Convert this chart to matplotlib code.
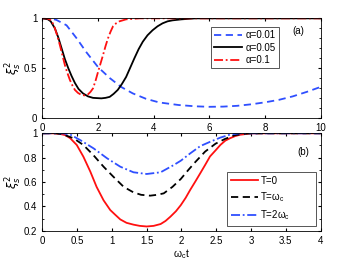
import matplotlib.pyplot as plt
from matplotlib.ticker import MultipleLocator

# panel (a): squeezing vs time for three coupling strengths
t_a001 = [0, 0.25, 0.5, 0.87, 1.23, 1.58, 2.0, 2.42, 2.83, 3.25, 3.73, 4.2, 4.9,
          5.5, 6.0, 6.5, 7.0, 7.5, 8.0, 8.5, 9.0, 9.5, 10]
v_a001 = [1.0, 1.0, 0.985, 0.93, 0.80, 0.66, 0.51, 0.40, 0.31, 0.245, 0.19, 0.154, 0.128,
          0.115, 0.11, 0.112, 0.12, 0.135, 0.155, 0.18, 0.215, 0.26, 0.31]

t_a005 = [0, 0.2, 0.3, 0.45, 0.57, 0.69, 0.81, 0.93, 1.05, 1.17, 1.3, 1.46, 1.64, 1.82,
          2.12, 2.27, 2.42, 2.56, 2.71, 2.86, 3.01, 3.16, 3.31, 3.46, 3.61, 3.78, 3.96,
          4.14, 4.32, 4.5, 4.68, 5.0, 5.5, 6, 7, 8, 9, 10]
v_a005 = [1.0, 0.99, 0.97, 0.90, 0.81, 0.70, 0.59, 0.50, 0.42, 0.35, 0.29, 0.245, 0.215, 0.20,
          0.195, 0.20, 0.21, 0.24, 0.28, 0.34, 0.41, 0.505, 0.60, 0.69, 0.765, 0.83, 0.88,
          0.92, 0.95, 0.97, 0.98, 0.99, 1.0, 1.0, 1.0, 1.0, 1.0, 1.0]

t_a01 = [0, 0.15, 0.27, 0.36, 0.45, 0.54, 0.63, 0.72, 0.81, 0.9, 0.99, 1.08, 1.17, 1.28,
         1.40, 1.52, 1.64, 1.73, 1.82, 1.91, 2.0, 2.09, 2.18, 2.27, 2.36, 2.45, 2.54, 2.65,
         2.77, 3.01, 3.5, 4, 6, 8, 10]
v_a01 = [1.0, 1.0, 0.99, 0.96, 0.90, 0.82, 0.73, 0.63, 0.53, 0.45, 0.38, 0.325, 0.28, 0.25,
         0.23, 0.225, 0.235, 0.26, 0.295, 0.37, 0.46, 0.545, 0.63, 0.72, 0.80, 0.865, 0.92, 0.95,
         0.97, 0.99, 1.0, 1.0, 1.0, 1.0, 1.0]

# panel (b): squeezing vs time for three temperatures
t_T0 = [0, 0.15, 0.255, 0.33, 0.40, 0.495, 0.59, 0.69, 0.78, 0.88, 0.976, 1.05, 1.12, 1.21,
        1.31, 1.40, 1.50, 1.60, 1.70, 1.77, 1.84, 1.92, 1.99, 2.06, 2.125, 2.2, 2.27, 2.34,
        2.41, 2.49, 2.56, 2.63, 2.70, 2.77, 2.84, 2.99, 3.2, 3.5, 4]
v_T0 = [1.0, 1.0, 0.995, 0.985, 0.96, 0.904, 0.808, 0.685, 0.56, 0.45, 0.37, 0.33, 0.293, 0.265,
        0.25, 0.24, 0.235, 0.24, 0.255, 0.28, 0.315, 0.36, 0.41, 0.47, 0.535, 0.605, 0.672, 0.74,
        0.81, 0.86, 0.905, 0.94, 0.96, 0.977, 0.988, 0.999, 1.0, 1.0, 1.0]

t_T1 = [0, 0.2, 0.3, 0.447, 0.59, 0.735, 0.88, 1.02, 1.17, 1.31, 1.42, 1.55, 1.65, 1.745,
        1.87, 1.99, 2.1, 2.2, 2.34, 2.49, 2.63, 2.77, 2.94, 3.2, 4]
v_T1 = [1.0, 1.0, 0.99, 0.96, 0.904, 0.82, 0.726, 0.644, 0.56, 0.515, 0.495, 0.488, 0.495, 0.507,
        0.56, 0.625, 0.70, 0.765, 0.85, 0.915, 0.955, 0.985, 0.998, 1.0, 1.0]

t_T2 = [0, 0.3, 0.4, 0.543, 0.735, 0.93, 1.12, 1.31, 1.5, 1.70, 1.89, 1.99, 2.125, 2.27,
        2.41, 2.56, 2.70, 2.84, 3, 4]
v_T2 = [1.0, 1.0, 0.99, 0.945, 0.877, 0.795, 0.726, 0.68, 0.666, 0.68, 0.74, 0.775, 0.835, 0.895,
        0.93, 0.965, 0.99, 1.0, 1.0, 1.0]

labels_a = ['\u03b1=0.01', '\u03b1=0.05', '\u03b1=0.1']
labels_b = ['T=0', 'T=\u03c9$_\\mathregular{c}$', 'T=2\u03c9$_\\mathregular{c}$']

blue = '#2f4fff'
red = '#ff1010'
fs = 7

plt.rcParams['font.family'] = ['Liberation Sans', 'DejaVu Sans']
plt.rcParams['font.size'] = fs
plt.rcParams['xtick.direction'] = 'in'
plt.rcParams['ytick.direction'] = 'in'
plt.rcParams['xtick.top'] = True
plt.rcParams['ytick.right'] = True
plt.rcParams['xtick.major.size'] = 2.5
plt.rcParams['ytick.major.size'] = 2.5
plt.rcParams['ytick.minor.size'] = 1.3
plt.rcParams['axes.linewidth'] = 0.6

fig = plt.figure(figsize=(3.5, 2.64), dpi=100)
ax1 = fig.add_axes([0.121, 0.554, 0.795, 0.3765])
ax2 = fig.add_axes([0.121, 0.126, 0.795, 0.369])

lw = 1.3
dash = (0, (4, 2.5))
dashdot = (0, (5, 1.5, 1, 1.5))

ax1.plot(t_a001, v_a001, color=blue, ls=dash, lw=lw, label=labels_a[0])
ax1.plot(t_a005, v_a005, color='black', ls='-', lw=lw, label=labels_a[1])
ax1.plot(t_a01, v_a01, color=red, ls=dashdot, lw=lw, label=labels_a[2])
ax1.set_xlim(0, 10)
ax1.set_ylim(0, 1)
ax1.set_xticks([0, 2, 4, 6, 8, 10])
ax1.set_yticks([0, 0.5, 1])
ax1.set_yticklabels(['0', '0.5', '1'])
ax1.yaxis.set_minor_locator(MultipleLocator(0.1))
ax1.set_ylabel(r'$\xi_s^2$', labelpad=0, fontsize=8.5)
ax1.text(0.9, 0.84, '(a)', transform=ax1.transAxes, fontsize=fs)
leg1 = ax1.legend(loc='upper left', bbox_to_anchor=(0.605, 0.915), fontsize=fs, handlelength=2.9,
                  handletextpad=0.3, labelspacing=0.25, borderpad=0.35, fancybox=False,
                  framealpha=1, borderaxespad=0)
leg1.get_frame().set_edgecolor('#555555')
leg1.get_frame().set_linewidth(0.7)

ax2.plot(t_T0, v_T0, color=red, ls='-', lw=lw, label=labels_b[0])
ax2.plot(t_T1, v_T1, color='black', ls=dash, lw=lw, label=labels_b[1])
ax2.plot(t_T2, v_T2, color=blue, ls=dashdot, lw=lw, label=labels_b[2])
ax2.set_xlim(0, 4)
ax2.set_ylim(0.2, 1)
ax2.set_xticks([0, 0.5, 1, 1.5, 2, 2.5, 3, 3.5, 4])
ax2.set_xticklabels(['0', '0.5', '1', '1.5', '2', '2.5', '3', '3.5', '4'])
ax2.set_yticks([0.2, 0.4, 0.6, 0.8, 1])
ax2.set_yticklabels(['0.2', '0.4', '0.6', '0.8', '1'])
ax2.yaxis.set_minor_locator(MultipleLocator(0.1))
ax2.set_ylabel(r'$\xi_s^2$', labelpad=0, fontsize=8.5)
ax2.set_xlabel('\u03c9$_\\mathregular{c}$t', labelpad=1, fontsize=7.5)
ax2.text(0.915, 0.78, '(b)', transform=ax2.transAxes, fontsize=fs)
leg2 = ax2.legend(loc='upper left', bbox_to_anchor=(0.665, 0.103, 0.32, 0.5), mode='expand',
                  fontsize=fs, handlelength=2.7, handletextpad=0.3, labelspacing=0.45,
                  borderpad=0.4, fancybox=False, framealpha=1, borderaxespad=0)
leg2.get_frame().set_edgecolor('#555555')
leg2.get_frame().set_linewidth(0.7)

fig.savefig('out.png', dpi=100)
